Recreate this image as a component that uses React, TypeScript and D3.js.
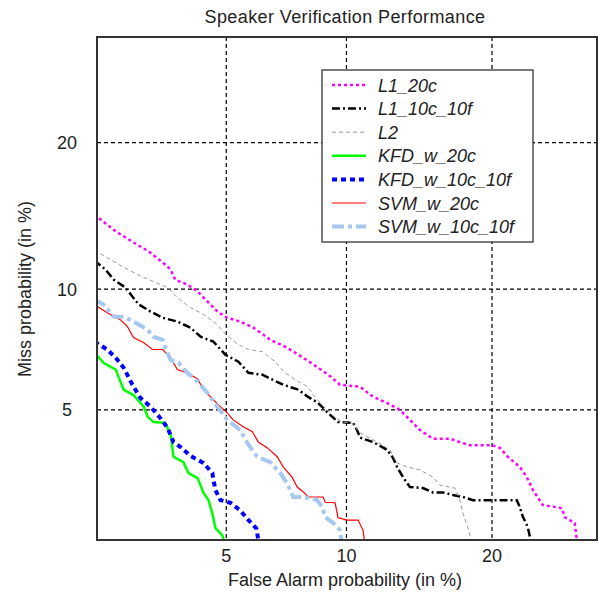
import React, { useEffect, useRef } from 'react';
import * as d3 from 'd3';

// DET curves, values in % (false alarm, miss)
const L1_20C = [[2.05,14.5],[2.39,13.39],[2.71,12.68],[3.01,12.13],[3.31,11.47],[3.49,11.07],[3.6,10.5],[3.9,10.24],[4.17,9.87],[4.44,9.36],[4.73,8.86],[5.03,8.57],[5.45,8.39],[5.9,8.11],[6.27,7.8],[6.53,7.58],[7.21,7.24],[7.89,6.84],[8.58,6.45],[9.07,6.19],[9.66,5.83],[10.74,5.76],[11.49,5.42],[12.33,5.22],[13.14,5.0],[13.79,4.7],[14.47,4.41],[15.38,4.17],[16.64,4.17],[17.39,4.08],[18.18,4.0],[19.99,4.0],[20.67,3.93],[21.36,3.71],[22.43,3.47],[23.07,3.24],[23.63,2.97],[24.56,2.68],[26.41,2.62],[26.7,2.46],[27.19,2.41],[27.7,2.36],[28.0,2.0]];
const L1_10C_10F = [[2.05,11.6],[2.22,11.07],[2.36,10.5],[2.56,10.08],[2.66,9.71],[2.81,9.21],[3.05,8.86],[3.31,8.57],[3.65,8.39],[3.98,8.11],[4.25,7.71],[4.61,7.5],[4.97,6.96],[5.39,6.68],[5.73,6.26],[6.23,6.19],[6.64,6.0],[7.04,5.83],[7.68,5.66],[8.11,5.42],[8.58,5.22],[9.07,4.9],[9.56,4.64],[10.36,4.61],[10.57,4.41],[10.74,4.2],[11.49,4.08],[12.33,3.88],[12.7,3.68],[12.95,3.47],[13.33,3.24],[13.79,3.03],[14.67,3.01],[15.38,2.92],[16.11,2.92],[16.86,2.87],[17.63,2.83],[18.41,2.77],[22.16,2.77],[22.43,2.64],[22.7,2.47],[23.17,2.29],[23.53,2.0]];
const L2 = [[2.05,12.2],[2.3,11.65],[2.53,11.19],[2.79,10.78],[3.11,10.4],[3.42,10.08],[3.65,9.55],[3.98,9.06],[4.33,8.72],[4.73,8.25],[4.97,7.83],[5.39,7.37],[5.73,7.17],[6.23,7.08],[6.72,6.68],[7.12,6.26],[7.68,5.94],[8.11,5.76],[8.35,5.48],[8.77,5.16],[9.27,4.84],[9.77,4.64],[10.3,4.61],[10.74,4.33],[11.73,4.08],[12.51,3.88],[12.95,3.56],[13.59,3.47],[14.47,3.4],[15.38,3.24],[15.89,3.07],[17.01,3.01],[17.39,2.77],[17.63,2.53],[18.02,2.28],[18.41,2.0]];
const KFD_W_20C = [[2.05,7.05],[2.19,6.64],[2.39,6.38],[2.53,5.66],[2.71,5.48],[2.91,5.1],[2.99,4.79],[3.11,4.64],[3.37,4.61],[3.49,4.28],[3.56,3.71],[3.8,3.58],[3.93,3.33],[4.17,3.22],[4.33,2.91],[4.47,2.77],[4.58,2.53],[4.67,2.28],[4.88,2.16],[4.97,2.0]];
const KFD_W_10C_10F = [[2.05,7.5],[2.25,7.17],[2.39,6.84],[2.53,6.45],[2.69,5.83],[2.84,5.39],[3.05,5.1],[3.26,4.75],[3.42,4.47],[3.56,4.08],[3.73,3.95],[3.98,3.73],[4.33,3.56],[4.58,3.33],[4.67,2.97],[4.82,2.77],[5.13,2.72],[5.45,2.58],[5.73,2.41],[6.01,2.27],[6.12,2.0]];
const SVM_W_20C = [[2.05,9.2],[2.25,8.81],[2.47,8.48],[2.6,8.15],[2.71,7.67],[2.91,7.45],[3.09,7.17],[3.31,7.17],[3.49,6.84],[3.65,6.38],[3.9,6.26],[4.17,6.04],[4.33,5.66],[4.53,5.42],[4.76,5.16],[5.0,4.94],[5.22,4.7],[5.55,4.5],[5.87,4.36],[6.08,4.08],[6.42,3.93],[6.8,3.71],[7.04,3.47],[7.41,3.24],[7.63,3.03],[7.9,2.93],[8.11,2.83],[8.82,2.83],[8.92,2.73],[9.41,2.72],[9.56,2.45],[10.04,2.41],[10.63,2.41],[10.91,2.24],[11.03,2.0]];
const SVM_W_10C_10F = [[2.05,9.45],[2.19,9.21],[2.36,8.62],[2.53,8.62],[2.71,8.39],[2.99,8.02],[3.11,7.71],[3.31,7.58],[3.37,7.24],[3.49,6.75],[3.68,6.64],[3.9,6.26],[4.17,5.94],[4.44,5.55],[4.73,5.1],[5.03,4.7],[5.45,4.41],[5.69,4.06],[6.04,3.71],[6.53,3.58],[6.92,3.33],[7.2,3.11],[7.46,2.83],[7.9,2.83],[8.53,2.77],[8.77,2.64],[8.92,2.46],[9.32,2.36],[9.66,2.24],[9.77,2.0]];

const SERIES_NAMES = ['L1_20c', 'L1_10c_10f', 'L2', 'KFD_w_20c', 'KFD_w_10c_10f', 'SVM_w_20c', 'SVM_w_10c_10f'];
const SERIES_DATA = [L1_20C, L1_10C_10F, L2, KFD_W_20C, KFD_W_10C_10F, SVM_W_20C, SVM_W_10C_10F];

const GRID_TICKS = [5, 10, 20];
const AXIS_RANGE = [2.09, 30];

const STYLES = [
  { color: '#ff00ff', width: 2.5, dash: '3,3' },
  { color: '#000000', width: 2.5, dash: '8,3,2,3' },
  { color: '#999999', width: 1, dash: '4,3' },
  { color: '#00ff00', width: 2.5, dash: null },
  { color: '#0000ff', width: 4, dash: '5,4' },
  { color: '#ff0000', width: 1.2, dash: null },
  { color: '#a6c8ee', width: 4, dash: '12,4,4,4' },
];

const FONT = '"Liberation Sans", Arial, sans-serif';

// inverse normal CDF (Acklam)
function probit(p: number) {
  const a = [-3.969683028665376e1, 2.209460984245205e2, -2.759285104469687e2, 1.38357751867269e2, -3.066479806614716e1, 2.506628277459239];
  const b = [-5.447609879822406e1, 1.615858368580409e2, -1.556989798598866e2, 6.680131188771972e1, -1.328068155288572e1];
  const c = [-7.784894002430293e-3, -3.223964580411365e-1, -2.400758277161838, -2.549671348695286, 4.374664141464968, 2.938163982698783];
  const d = [7.784695709041462e-3, 3.224671290700398e-1, 2.445134137142996, 3.754408661907416];
  const plow = 0.02425;
  if (p < plow) {
    const q = Math.sqrt(-2 * Math.log(p));
    return (((((c[0] * q + c[1]) * q + c[2]) * q + c[3]) * q + c[4]) * q + c[5]) /
      ((((d[0] * q + d[1]) * q + d[2]) * q + d[3]) * q + 1);
  }
  if (p <= 1 - plow) {
    const q = p - 0.5;
    const r = q * q;
    return (((((a[0] * r + a[1]) * r + a[2]) * r + a[3]) * r + a[4]) * r + a[5]) * q /
      (((((b[0] * r + b[1]) * r + b[2]) * r + b[3]) * r + b[4]) * r + 1);
  }
  const q = Math.sqrt(-2 * Math.log(1 - p));
  return -(((((c[0] * q + c[1]) * q + c[2]) * q + c[3]) * q + c[4]) * q + c[5]) /
    ((((d[0] * q + d[1]) * q + d[2]) * q + d[3]) * q + 1);
}

export default function App() {
  const ref = useRef<SVGSVGElement>(null);

  useEffect(() => {
    const svg = d3.select(ref.current);
    svg.selectAll('*').remove();

    const left = 97, right = 597, top = 37, bottom = 540;
    const dom = AXIS_RANGE.map(v => probit(v / 100));
    const x = d3.scaleLinear().domain(dom).range([left, right]);
    const y = d3.scaleLinear().domain(dom).range([bottom, top]);
    const px = (v: number) => x(probit(v / 100));
    const py = (v: number) => y(probit(v / 100));

    svg.append('defs').append('clipPath').attr('id', 'plot-clip')
      .append('rect')
      .attr('x', left).attr('y', top)
      .attr('width', right - left).attr('height', bottom - top);

    // grid
    const grid = svg.append('g');
    GRID_TICKS.forEach(t => {
      grid.append('line')
        .attr('x1', px(t)).attr('x2', px(t)).attr('y1', top).attr('y2', bottom)
        .attr('stroke', '#000').attr('stroke-width', 1.2).attr('stroke-dasharray', '4,3');
      grid.append('line')
        .attr('y1', py(t)).attr('y2', py(t)).attr('x1', left).attr('x2', right)
        .attr('stroke', '#000').attr('stroke-width', 1.2).attr('stroke-dasharray', '4,3');
    });

    // curves
    const line = d3.line<number[]>().x(d => px(d[0])).y(d => py(d[1]));
    const curves = svg.append('g').attr('clip-path', 'url(#plot-clip)');
    SERIES_DATA.forEach((data, i) => {
      const s = STYLES[i];
      curves.append('path')
        .attr('d', line(data))
        .attr('fill', 'none')
        .attr('stroke', s.color)
        .attr('stroke-width', s.width)
        .attr('stroke-dasharray', s.dash)
        .attr('stroke-linejoin', 'miter');
    });

    // legend
    const lg = svg.append('g');
    lg.append('rect')
      .attr('x', 322).attr('y', 70).attr('width', 211).attr('height', 172)
      .attr('fill', '#fff').attr('stroke', '#222').attr('stroke-width', 1.2);
    SERIES_NAMES.forEach((name, i) => {
      const s = STYLES[i];
      const cy = 85 + i * 23.6;
      lg.append('line')
        .attr('x1', 332).attr('x2', 366).attr('y1', cy).attr('y2', cy)
        .attr('stroke', s.color).attr('stroke-width', s.width)
        .attr('stroke-dasharray', s.dash);
      lg.append('text')
        .attr('x', 378).attr('y', cy + 6.5)
        .attr('font-family', FONT).attr('font-size', 18).attr('font-style', 'italic')
        .attr('fill', '#222')
        .text(name);
    });

    // frame
    svg.append('rect')
      .attr('x', left).attr('y', top).attr('width', right - left).attr('height', bottom - top)
      .attr('fill', 'none').attr('stroke', '#333').attr('stroke-width', 2);

    // tick labels
    GRID_TICKS.forEach(t => {
      svg.append('text')
        .attr('x', px(t)).attr('y', 562)
        .attr('text-anchor', 'middle')
        .attr('font-family', FONT).attr('font-size', 18).attr('fill', '#222')
        .text(t);
      svg.append('text')
        .attr('x', 67).attr('y', py(t) + 6.5)
        .attr('text-anchor', 'middle')
        .attr('font-family', FONT).attr('font-size', 18).attr('fill', '#222')
        .text(t);
    });

    svg.append('text')
      .attr('x', 345).attr('y', 23)
      .attr('text-anchor', 'middle')
      .attr('font-family', FONT).attr('font-size', 18).attr('fill', '#222')
      .attr('letter-spacing', 0.4)
      .text('Speaker Verification Performance');

    svg.append('text')
      .attr('x', 345).attr('y', 586)
      .attr('text-anchor', 'middle')
      .attr('font-family', FONT).attr('font-size', 18).attr('fill', '#222')
      .text('False Alarm probability (in %)');

    svg.append('text')
      .attr('transform', 'translate(31,289) rotate(-90)')
      .attr('text-anchor', 'middle')
      .attr('font-family', FONT).attr('font-size', 18).attr('fill', '#222')
      .text('Miss probability (in %)');
  }, []);

  return (
    <svg
      ref={ref}
      width={598}
      height={594}
      style={{ position: 'absolute', left: 0, top: 0, background: '#fff' }}
    />
  );
}
